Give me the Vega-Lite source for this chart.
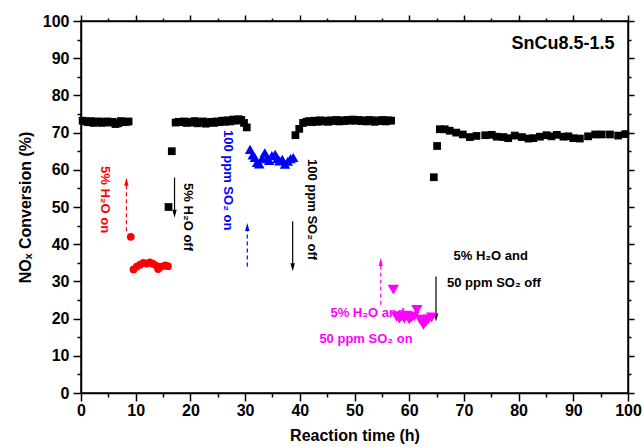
{
  "$schema": "https://vega.github.io/schema/vega-lite/v6.json",
  "width": 547,
  "height": 372,
  "autosize": {"type": "none"},
  "padding": {"left": 81, "top": 21, "right": 15, "bottom": 54},
  "config": {
    "view": {"stroke": "black", "strokeWidth": 1.5},
    "font": "Liberation Sans"
  },
  "resolve": {"axis": {"x": "independent", "y": "independent"}},
  "layer": [
    {
      "data": {"values": [
        {"x": 4.4, "y": 52, "text": "5% H₂O on", "s": "H2O"},
        {"x": 19.6, "y": 47.3, "text": "5% H₂O off", "s": "base"},
        {"x": 26.9, "y": 57.2, "text": "100 ppm SO₂ on", "s": "SO2"},
        {"x": 42.2, "y": 49.3, "text": "100 ppm SO₂ off", "s": "base"}
      ]},
      "mark": {"type": "text", "angle": 90, "fontWeight": "bold", "fontSize": 13, "align": "center", "baseline": "middle"},
      "encoding": {
        "x": {"field": "x", "type": "quantitative", "axis": null},
        "y": {"field": "y", "type": "quantitative", "axis": null},
        "text": {"field": "text"},
        "color": {"field": "s", "type": "nominal", "legend": null}
      }
    },
    {
      "data": {"values": [
        {"x": 52.4, "y": 21.5, "text": "5% H₂O and", "s": "H2O+SO2"},
        {"x": 52.1, "y": 14.6, "text": "50 ppm SO₂ on", "s": "H2O+SO2"},
        {"x": 74.9, "y": 36.7, "text": "5% H₂O and", "s": "base"},
        {"x": 75.5, "y": 29.7, "text": "50 ppm SO₂ off", "s": "base"}
      ]},
      "mark": {"type": "text", "fontWeight": "bold", "fontSize": 13, "align": "center", "baseline": "middle"},
      "encoding": {
        "x": {"field": "x", "type": "quantitative", "axis": null},
        "y": {"field": "y", "type": "quantitative", "axis": null},
        "text": {"field": "text"},
        "color": {"field": "s", "type": "nominal", "legend": null}
      }
    },
    {
      "data": {"values": [
        {"x": 88.1, "y": 93.8, "text": "SnCu8.5-1.5"}
      ]},
      "mark": {"type": "text", "fontWeight": "bold", "fontSize": 18, "align": "center", "baseline": "middle", "color": "black"},
      "encoding": {
        "x": {"field": "x", "type": "quantitative", "axis": null},
        "y": {"field": "y", "type": "quantitative", "axis": null},
        "text": {"field": "text"}
      }
    },
    {
      "data": {"values": [
        {"x": 8.3, "y": 43.5, "y2": 56.8, "s": "H2O", "kind": "dashed"},
        {"x": 17.1, "y": 57.9, "y2": 48.2, "s": "base", "kind": "solid"},
        {"x": 30.4, "y": 34, "y2": 44.6, "s": "SO2", "kind": "dashed"},
        {"x": 38.7, "y": 46.2, "y2": 33.8, "s": "base", "kind": "solid"},
        {"x": 54.8, "y": 23.7, "y2": 35.2, "s": "H2O+SO2", "kind": "dashed"},
        {"x": 64.9, "y": 31.3, "y2": 20.3, "s": "base", "kind": "solid"}
      ]},
      "mark": {"type": "rule", "strokeWidth": 1.2},
      "encoding": {
        "x": {"field": "x", "type": "quantitative",
          "axis": {"orient": "top", "values": [0,5,10,15,20,25,30,35,40,45,50,55,60,65,70,75,80,85,90,95,100], "labels": false, "title": null, "grid": false,
            "tickColor": "black", "tickWidth": 1.5, "domainColor": "black", "domainWidth": 1.5,
            "tickSize": {"condition": {"test": "datum.value % 10 === 0", "value": 6}, "value": 3}}},
        "y": {"field": "y", "type": "quantitative",
          "axis": {"orient": "right", "values": [0,5,10,15,20,25,30,35,40,45,50,55,60,65,70,75,80,85,90,95,100], "labels": false, "title": null, "grid": false,
            "tickColor": "black", "tickWidth": 1.5, "domainColor": "black", "domainWidth": 1.5,
            "tickSize": {"condition": {"test": "datum.value % 10 === 0", "value": 6}, "value": 3}}},
        "y2": {"field": "y2"},
        "color": {"field": "s", "type": "nominal", "legend": null},
        "strokeDash": {"field": "kind", "type": "nominal", "legend": null,
          "scale": {"domain": ["dashed", "solid"], "range": [[4, 3], [1, 0]]}}
      }
    },
    {
      "data": {"values": [
        {"x": 8.3, "y": 56.8, "s": "H2O"},
        {"x": 30.4, "y": 44.6, "s": "SO2"},
        {"x": 54.8, "y": 35.2, "s": "H2O+SO2"}
      ]},
      "mark": {"type": "point", "filled": true, "opacity": 1, "size": 64, "shape": "M0,-1L0.55,1L-0.55,1Z"},
      "encoding": {
        "x": {"field": "x", "type": "quantitative", "axis": null},
        "y": {"field": "y", "type": "quantitative", "axis": null},
        "color": {"field": "s", "type": "nominal", "legend": null}
      }
    },
    {
      "data": {"values": [
        {"x": 17.1, "y": 48.2, "s": "base"},
        {"x": 38.7, "y": 33.8, "s": "base"},
        {"x": 64.9, "y": 20.3, "s": "base"}
      ]},
      "mark": {"type": "point", "filled": true, "opacity": 1, "size": 64, "shape": "M0,1L0.55,-1L-0.55,-1Z"},
      "encoding": {
        "x": {"field": "x", "type": "quantitative", "axis": null},
        "y": {"field": "y", "type": "quantitative", "axis": null},
        "color": {"field": "s", "type": "nominal", "legend": null}
      }
    },
    {
      "data": {"values": [
        {"x": 0.3, "y": 73.2, "s": "base"}, {"x": 0.8, "y": 73.0, "s": "base"}, {"x": 1.3, "y": 72.8, "s": "base"},
        {"x": 1.8, "y": 73.1, "s": "base"}, {"x": 2.3, "y": 72.6, "s": "base"}, {"x": 2.8, "y": 72.9, "s": "base"},
        {"x": 3.3, "y": 73.0, "s": "base"}, {"x": 3.8, "y": 72.6, "s": "base"}, {"x": 4.3, "y": 72.8, "s": "base"},
        {"x": 4.8, "y": 73.0, "s": "base"}, {"x": 5.3, "y": 72.7, "s": "base"}, {"x": 5.8, "y": 72.9, "s": "base"},
        {"x": 6.3, "y": 72.3, "s": "base"}, {"x": 6.8, "y": 72.5, "s": "base"}, {"x": 7.3, "y": 73.1, "s": "base"},
        {"x": 7.8, "y": 72.8, "s": "base"}, {"x": 8.3, "y": 72.9, "s": "base"}, {"x": 8.7, "y": 73.0, "s": "base"},
        {"x": 16.0, "y": 50.0, "s": "base"}, {"x": 16.6, "y": 65.0, "s": "base"},
        {"x": 17.3, "y": 72.7, "s": "base"}, {"x": 17.8, "y": 72.9, "s": "base"}, {"x": 18.3, "y": 72.8, "s": "base"},
        {"x": 18.8, "y": 73.0, "s": "base"}, {"x": 19.3, "y": 72.6, "s": "base"}, {"x": 19.8, "y": 72.9, "s": "base"},
        {"x": 20.3, "y": 72.7, "s": "base"}, {"x": 20.8, "y": 73.1, "s": "base"}, {"x": 21.3, "y": 72.5, "s": "base"},
        {"x": 21.8, "y": 72.8, "s": "base"}, {"x": 22.3, "y": 73.0, "s": "base"}, {"x": 22.8, "y": 72.4, "s": "base"},
        {"x": 23.3, "y": 72.7, "s": "base"}, {"x": 23.8, "y": 72.9, "s": "base"}, {"x": 24.3, "y": 72.6, "s": "base"},
        {"x": 24.8, "y": 73.0, "s": "base"}, {"x": 25.3, "y": 72.8, "s": "base"}, {"x": 25.8, "y": 73.2, "s": "base"},
        {"x": 26.3, "y": 72.9, "s": "base"}, {"x": 26.8, "y": 73.3, "s": "base"}, {"x": 27.3, "y": 73.0, "s": "base"},
        {"x": 27.8, "y": 73.5, "s": "base"}, {"x": 28.3, "y": 73.2, "s": "base"}, {"x": 28.8, "y": 73.6, "s": "base"},
        {"x": 29.3, "y": 73.4, "s": "base"}, {"x": 29.8, "y": 72.6, "s": "base"}, {"x": 30.3, "y": 71.4, "s": "base"},
        {"x": 39.2, "y": 69.3, "s": "base"}, {"x": 39.9, "y": 71.0, "s": "base"}, {"x": 40.6, "y": 72.6, "s": "base"},
        {"x": 41.2, "y": 72.9, "s": "base"}, {"x": 41.7, "y": 73.1, "s": "base"}, {"x": 42.2, "y": 72.8, "s": "base"},
        {"x": 42.7, "y": 73.2, "s": "base"}, {"x": 43.2, "y": 72.9, "s": "base"}, {"x": 43.7, "y": 73.3, "s": "base"},
        {"x": 44.2, "y": 73.0, "s": "base"}, {"x": 44.7, "y": 73.2, "s": "base"}, {"x": 45.2, "y": 72.9, "s": "base"},
        {"x": 45.7, "y": 73.3, "s": "base"}, {"x": 46.2, "y": 73.1, "s": "base"}, {"x": 46.7, "y": 73.4, "s": "base"},
        {"x": 47.2, "y": 73.0, "s": "base"}, {"x": 47.7, "y": 73.3, "s": "base"}, {"x": 48.2, "y": 73.1, "s": "base"},
        {"x": 48.7, "y": 73.4, "s": "base"}, {"x": 49.2, "y": 73.2, "s": "base"}, {"x": 49.7, "y": 73.5, "s": "base"},
        {"x": 50.2, "y": 73.2, "s": "base"}, {"x": 50.7, "y": 73.4, "s": "base"}, {"x": 51.2, "y": 73.1, "s": "base"},
        {"x": 51.7, "y": 73.3, "s": "base"}, {"x": 52.2, "y": 73.0, "s": "base"}, {"x": 52.7, "y": 73.4, "s": "base"},
        {"x": 53.2, "y": 73.2, "s": "base"}, {"x": 53.7, "y": 72.9, "s": "base"}, {"x": 54.2, "y": 73.3, "s": "base"},
        {"x": 54.7, "y": 73.1, "s": "base"}, {"x": 55.2, "y": 73.4, "s": "base"}, {"x": 55.7, "y": 73.0, "s": "base"},
        {"x": 56.2, "y": 73.3, "s": "base"}, {"x": 56.7, "y": 73.2, "s": "base"},
        {"x": 64.5, "y": 58.0, "s": "base"}, {"x": 65.1, "y": 66.4, "s": "base"}, {"x": 65.6, "y": 70.9, "s": "base"},
        {"x": 66.5, "y": 70.9, "s": "base"}, {"x": 67.4, "y": 70.5, "s": "base"}, {"x": 68.6, "y": 70.0, "s": "base"},
        {"x": 69.8, "y": 69.5, "s": "base"}, {"x": 71.1, "y": 68.8, "s": "base"}, {"x": 72.3, "y": 69.1, "s": "base"},
        {"x": 73.9, "y": 69.3, "s": "base"}, {"x": 75.1, "y": 69.4, "s": "base"}, {"x": 76.0, "y": 68.9, "s": "base"},
        {"x": 77.2, "y": 68.8, "s": "base"}, {"x": 78.1, "y": 68.5, "s": "base"}, {"x": 79.3, "y": 69.2, "s": "base"},
        {"x": 80.6, "y": 68.8, "s": "base"}, {"x": 81.8, "y": 68.4, "s": "base"}, {"x": 82.7, "y": 68.5, "s": "base"},
        {"x": 83.9, "y": 68.9, "s": "base"}, {"x": 85.1, "y": 69.3, "s": "base"}, {"x": 86.0, "y": 69.0, "s": "base"},
        {"x": 87.0, "y": 69.4, "s": "base"}, {"x": 88.2, "y": 68.9, "s": "base"}, {"x": 89.1, "y": 69.0, "s": "base"},
        {"x": 90.0, "y": 68.5, "s": "base"}, {"x": 91.2, "y": 68.4, "s": "base"}, {"x": 92.7, "y": 69.0, "s": "base"},
        {"x": 94.0, "y": 69.5, "s": "base"}, {"x": 95.2, "y": 69.5, "s": "base"}, {"x": 96.7, "y": 69.5, "s": "base"},
        {"x": 98.2, "y": 69.2, "s": "base"}, {"x": 99.5, "y": 69.6, "s": "base"}
      ]},
      "mark": {"type": "point", "filled": true, "opacity": 1, "shape": "square", "size": 60},
      "encoding": {
        "x": {"field": "x", "type": "quantitative",
          "scale": {"domain": [0, 100], "nice": false, "zero": false},
          "axis": {"orient": "bottom", "values": [0,5,10,15,20,25,30,35,40,45,50,55,60,65,70,75,80,85,90,95,100],
            "labelExpr": "datum.value % 10 === 0 ? datum.label : ''", "labelOverlap": false, "labelFlush": false,
            "tickSize": {"condition": {"test": "datum.value % 10 === 0", "value": 8}, "value": 4},
            "tickColor": "black", "tickWidth": 1.5, "domainColor": "black", "domainWidth": 1.5, "grid": false,
            "labelFont": "Liberation Sans", "labelFontWeight": "bold", "labelFontSize": 16, "labelColor": "black", "labelPadding": 1,
            "title": "Reaction time (h)", "titleFont": "Liberation Sans", "titleFontSize": 16, "titleFontWeight": "bold", "titleColor": "black", "titlePadding": 9}},
        "y": {"field": "y", "type": "quantitative",
          "scale": {"domain": [0, 100], "nice": false, "zero": false},
          "axis": {"orient": "left", "values": [0,5,10,15,20,25,30,35,40,45,50,55,60,65,70,75,80,85,90,95,100],
            "labelExpr": "datum.value % 10 === 0 ? datum.label : ''", "labelOverlap": false, "labelFlush": false,
            "tickSize": {"condition": {"test": "datum.value % 10 === 0", "value": 8}, "value": 4},
            "tickColor": "black", "tickWidth": 1.5, "domainColor": "black", "domainWidth": 1.5, "grid": false,
            "labelFont": "Liberation Sans", "labelFontWeight": "bold", "labelFontSize": 16, "labelColor": "black", "labelPadding": 4,
            "title": "NOₓ Conversion (%)", "titleFont": "Liberation Sans", "titleFontSize": 16, "titleFontWeight": "bold", "titleColor": "black", "titlePadding": 9}},
        "color": {"field": "s", "type": "nominal", "legend": null,
          "scale": {"domain": ["base", "H2O", "SO2", "H2O+SO2"], "range": ["#000000", "#FF0000", "#0000FF", "#FF00FF"]}}
      }
    },
    {
      "data": {"values": [
        {"x": 9.1, "y": 42.0, "s": "H2O"}, {"x": 9.6, "y": 33.2, "s": "H2O"}, {"x": 10.2, "y": 34.0, "s": "H2O"},
        {"x": 10.8, "y": 34.5, "s": "H2O"}, {"x": 11.4, "y": 35.0, "s": "H2O"}, {"x": 12.0, "y": 34.8, "s": "H2O"},
        {"x": 12.6, "y": 35.1, "s": "H2O"}, {"x": 13.2, "y": 34.7, "s": "H2O"}, {"x": 13.8, "y": 34.2, "s": "H2O"},
        {"x": 14.1, "y": 33.3, "s": "H2O"}, {"x": 14.7, "y": 34.0, "s": "H2O"}, {"x": 15.4, "y": 34.3, "s": "H2O"},
        {"x": 15.9, "y": 34.1, "s": "H2O"}
      ]},
      "mark": {"type": "point", "filled": true, "opacity": 1, "shape": "circle", "size": 60},
      "encoding": {
        "x": {"field": "x", "type": "quantitative", "axis": null},
        "y": {"field": "y", "type": "quantitative", "axis": null},
        "color": {"field": "s", "type": "nominal", "legend": null}
      }
    },
    {
      "data": {"values": [
        {"x": 30.9, "y": 65.5, "s": "SO2"}, {"x": 31.4, "y": 64.0, "s": "SO2"}, {"x": 31.8, "y": 63.3, "s": "SO2"},
        {"x": 32.2, "y": 62.0, "s": "SO2"}, {"x": 32.6, "y": 61.6, "s": "SO2"}, {"x": 33.1, "y": 63.0, "s": "SO2"},
        {"x": 33.6, "y": 64.6, "s": "SO2"}, {"x": 34.0, "y": 63.2, "s": "SO2"}, {"x": 34.4, "y": 62.5, "s": "SO2"},
        {"x": 34.9, "y": 63.8, "s": "SO2"}, {"x": 35.5, "y": 64.2, "s": "SO2"}, {"x": 35.9, "y": 63.0, "s": "SO2"},
        {"x": 36.3, "y": 62.4, "s": "SO2"}, {"x": 36.8, "y": 62.8, "s": "SO2"}, {"x": 37.3, "y": 61.5, "s": "SO2"},
        {"x": 37.8, "y": 62.3, "s": "SO2"}, {"x": 38.3, "y": 63.0, "s": "SO2"}, {"x": 38.8, "y": 63.3, "s": "SO2"}
      ]},
      "mark": {"type": "point", "filled": true, "opacity": 1, "shape": "triangle-up", "size": 110},
      "encoding": {
        "x": {"field": "x", "type": "quantitative", "axis": null},
        "y": {"field": "y", "type": "quantitative", "axis": null},
        "color": {"field": "s", "type": "nominal", "legend": null}
      }
    },
    {
      "data": {"values": [
        {"x": 57.1, "y": 27.8, "s": "H2O+SO2"}, {"x": 57.7, "y": 20.5, "s": "H2O+SO2"}, {"x": 58.2, "y": 20.0, "s": "H2O+SO2"},
        {"x": 58.6, "y": 20.6, "s": "H2O+SO2"}, {"x": 59.1, "y": 20.0, "s": "H2O+SO2"}, {"x": 59.5, "y": 20.8, "s": "H2O+SO2"},
        {"x": 60.0, "y": 19.8, "s": "H2O+SO2"}, {"x": 60.4, "y": 20.3, "s": "H2O+SO2"}, {"x": 60.9, "y": 20.6, "s": "H2O+SO2"},
        {"x": 61.4, "y": 22.3, "s": "H2O+SO2"}, {"x": 62.0, "y": 19.7, "s": "H2O+SO2"}, {"x": 62.6, "y": 18.3, "s": "H2O+SO2"},
        {"x": 63.0, "y": 19.0, "s": "H2O+SO2"}, {"x": 63.5, "y": 19.8, "s": "H2O+SO2"}, {"x": 64.1, "y": 20.3, "s": "H2O+SO2"}
      ]},
      "mark": {"type": "point", "filled": true, "opacity": 1, "shape": "triangle-down", "size": 130},
      "encoding": {
        "x": {"field": "x", "type": "quantitative", "axis": null},
        "y": {"field": "y", "type": "quantitative", "axis": null},
        "color": {"field": "s", "type": "nominal", "legend": null}
      }
    }
  ]
}
